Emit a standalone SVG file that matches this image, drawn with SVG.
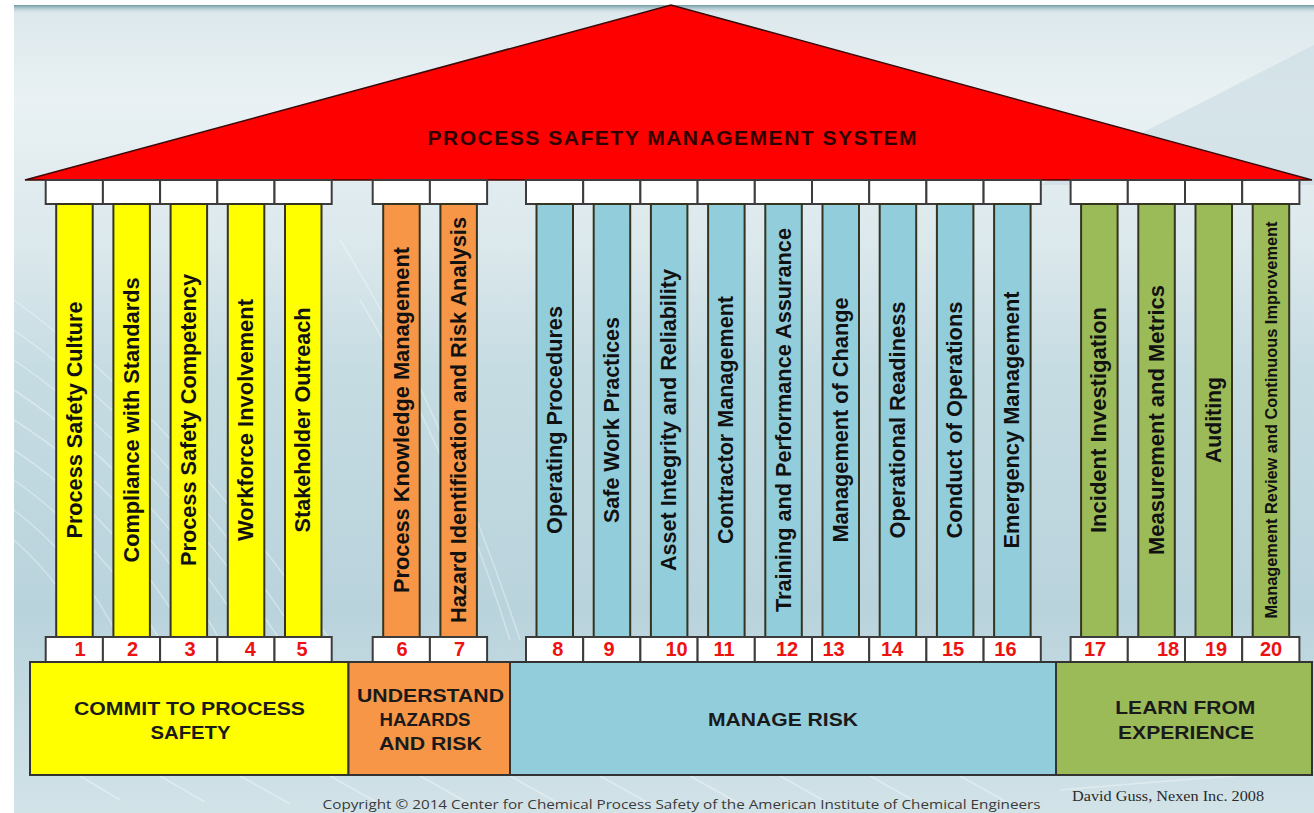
<svg xmlns="http://www.w3.org/2000/svg" width="1314" height="813" viewBox="0 0 1314 813">
<defs>
<linearGradient id="bg" x1="0" y1="0" x2="0" y2="1">
<stop offset="0" stop-color="#dce8ec"/>
<stop offset="0.12" stop-color="#e9f1f4"/>
<stop offset="0.3" stop-color="#dbe8ec"/>
<stop offset="0.45" stop-color="#c6dce3"/>
<stop offset="0.75" stop-color="#b9d3dc"/>
<stop offset="1" stop-color="#d2e3e8"/>
</linearGradient>
<linearGradient id="topband" x1="0" y1="0" x2="0" y2="1">
<stop offset="0" stop-color="#6f99a6"/>
<stop offset="1" stop-color="#dce8ec" stop-opacity="0"/>
</linearGradient>
<style>
.cap{fill:#ffffff;stroke:#3c3c3c;stroke-width:2}
.pil{stroke:#34341f;stroke-width:2}
.y{fill:#ffff00}
.o{fill:#f79646}
.b{fill:#92cddc}
.g{fill:#9bbb59}
.base{stroke:#333333;stroke-width:2}
.pt{font-family:"Liberation Sans",Arial,sans-serif;font-weight:bold;font-size:21.5px;fill:#111111;text-anchor:middle}
.num{font-family:"Liberation Sans",Arial,sans-serif;font-weight:bold;font-size:20px;fill:#ee1111;text-anchor:middle}
.bt{font-family:"Liberation Sans",Arial,sans-serif;font-weight:bold;font-size:18px;fill:#1a1a1a;text-anchor:middle}
.sw{fill:none;stroke:#ffffff;stroke-opacity:0.35;stroke-width:1.5}
</style>
</defs>
<rect x="0" y="0" width="1314" height="813" fill="#ffffff"/>
<rect x="14" y="5" width="1300" height="808" fill="url(#bg)"/>
<rect x="14" y="5" width="1300" height="9" fill="url(#topband)"/>
<polygon points="1314,45 1040,185 1314,185" fill="#c9dce3" opacity="0.6"/>
<g id="background-swooshes">
<path class="sw" d="M14 300 Q180 420 330 640"/>
<path class="sw" d="M14 330 Q170 440 300 640"/>
<path class="sw" d="M14 360 Q160 460 280 640"/>
<path class="sw" d="M14 390 Q150 480 250 640"/>
<path class="sw" d="M14 420 Q140 500 220 640"/>
<path class="sw" d="M14 450 Q120 520 190 640"/>
<path class="sw" d="M14 480 Q100 540 160 640"/>
<path class="sw" d="M14 510 Q80 560 120 640"/>
<path class="sw" d="M14 540 Q60 580 90 640"/>
<path class="sw" d="M340 240 Q440 400 520 640"/>
<path class="sw" d="M360 300 Q450 450 510 640"/>
<path class="sw" d="M80 776 L120 800"/>
<path class="sw" d="M160 776 L205 802"/>
<path class="sw" d="M240 776 L290 804"/>
<path class="sw" d="M330 776 L380 804"/>
<path class="sw" d="M420 776 L470 804"/>
<path class="sw" d="M510 776 L560 804"/>
<path class="sw" d="M600 776 L650 804"/>
<path class="sw" d="M690 776 L740 804"/>
<path class="sw" d="M780 776 L830 804"/>
<path class="sw" d="M870 776 L920 804"/>
<path class="sw" d="M960 776 L1010 804"/>
<path class="sw" d="M1060 790 Q1200 778 1314 770"/>
</g>

<g id="roof">
<polygon points="25,180 671,5 1312,180" fill="#ff0000" stroke="#3a0a0a" stroke-width="1.5" stroke-linejoin="miter"/>
<text x="672" y="145" font-family="Liberation Sans, Arial, sans-serif" font-weight="bold" font-size="21" fill="#300000" text-anchor="middle" textLength="489" lengthAdjust="spacing">PROCESS SAFETY MANAGEMENT SYSTEM</text>
</g>

<g id="element-1">
<rect class="cap" x="45.7" y="180" width="57.2" height="24"/>
<rect class="pil y" x="56.2" y="204" width="36.5" height="433"/>
<rect class="cap" x="45.7" y="637" width="57.2" height="25"/>
<text class="pt" transform="translate(81.5,420) rotate(-90)" textLength="237" lengthAdjust="spacingAndGlyphs">Process Safety Culture</text>
<text class="num" x="80" y="656">1</text>
</g>
<g id="element-2">
<rect class="cap" x="102.9" y="180" width="57.2" height="24"/>
<rect class="pil y" x="113.4" y="204" width="36.5" height="433"/>
<rect class="cap" x="102.9" y="637" width="57.2" height="25"/>
<text class="pt" transform="translate(138.7,420) rotate(-90)" textLength="285" lengthAdjust="spacingAndGlyphs">Compliance with Standards</text>
<text class="num" x="132.6" y="656">2</text>
</g>
<g id="element-3">
<rect class="cap" x="160.1" y="180" width="57.2" height="24"/>
<rect class="pil y" x="170.6" y="204" width="36.5" height="433"/>
<rect class="cap" x="160.1" y="637" width="57.2" height="25"/>
<text class="pt" transform="translate(195.9,420) rotate(-90)" textLength="292" lengthAdjust="spacingAndGlyphs">Process Safety Competency</text>
<text class="num" x="190" y="656">3</text>
</g>
<g id="element-4">
<rect class="cap" x="217.3" y="180" width="57.2" height="24"/>
<rect class="pil y" x="227.8" y="204" width="36.5" height="433"/>
<rect class="cap" x="217.3" y="637" width="57.2" height="25"/>
<text class="pt" transform="translate(253.1,420) rotate(-90)" textLength="242" lengthAdjust="spacingAndGlyphs">Workforce Involvement</text>
<text class="num" x="250.4" y="656">4</text>
</g>
<g id="element-5">
<rect class="cap" x="274.5" y="180" width="57.2" height="24"/>
<rect class="pil y" x="285" y="204" width="36.5" height="433"/>
<rect class="cap" x="274.5" y="637" width="57.2" height="25"/>
<text class="pt" transform="translate(310.3,420) rotate(-90)" textLength="225" lengthAdjust="spacingAndGlyphs">Stakeholder Outreach</text>
<text class="num" x="302" y="656">5</text>
</g>

<g id="element-6">
<rect class="cap" x="372.7" y="180" width="57.2" height="24"/>
<rect class="pil o" x="383.2" y="204" width="36.5" height="433"/>
<rect class="cap" x="372.7" y="637" width="57.2" height="25"/>
<text class="pt" transform="translate(408.5,420) rotate(-90)" textLength="346" lengthAdjust="spacingAndGlyphs">Process Knowledge Management</text>
<text class="num" x="402" y="656">6</text>
</g>
<g id="element-7">
<rect class="cap" x="429.9" y="180" width="57.2" height="24"/>
<rect class="pil o" x="440.4" y="204" width="36.5" height="433"/>
<rect class="cap" x="429.9" y="637" width="57.2" height="25"/>
<text class="pt" transform="translate(465.7,420) rotate(-90)" textLength="406" lengthAdjust="spacingAndGlyphs">Hazard Identification and Risk Analysis</text>
<text class="num" x="459.6" y="656">7</text>
</g>

<g id="element-8">
<rect class="cap" x="526" y="180" width="57.2" height="24"/>
<rect class="pil b" x="536.5" y="204" width="36.5" height="433"/>
<rect class="cap" x="526" y="637" width="57.2" height="25"/>
<text class="pt" transform="translate(561.8,420) rotate(-90)" textLength="228" lengthAdjust="spacingAndGlyphs">Operating Procedures</text>
<text class="num" x="557.7" y="656">8</text>
</g>
<g id="element-9">
<rect class="cap" x="583.2" y="180" width="57.2" height="24"/>
<rect class="pil b" x="593.7" y="204" width="36.5" height="433"/>
<rect class="cap" x="583.2" y="637" width="57.2" height="25"/>
<text class="pt" transform="translate(619,420) rotate(-90)" textLength="206" lengthAdjust="spacingAndGlyphs">Safe Work Practices</text>
<text class="num" x="609" y="656">9</text>
</g>
<g id="element-10">
<rect class="cap" x="640.4" y="180" width="57.2" height="24"/>
<rect class="pil b" x="650.9" y="204" width="36.5" height="433"/>
<rect class="cap" x="640.4" y="637" width="57.2" height="25"/>
<text class="pt" transform="translate(676.2,420) rotate(-90)" textLength="302" lengthAdjust="spacingAndGlyphs">Asset Integrity and Reliability</text>
<text class="num" x="676.5" y="656">10</text>
</g>
<g id="element-11">
<rect class="cap" x="697.6" y="180" width="57.2" height="24"/>
<rect class="pil b" x="708.1" y="204" width="36.5" height="433"/>
<rect class="cap" x="697.6" y="637" width="57.2" height="25"/>
<text class="pt" transform="translate(733.4,420) rotate(-90)" textLength="248" lengthAdjust="spacingAndGlyphs">Contractor Management</text>
<text class="num" x="724" y="656">11</text>
</g>
<g id="element-12">
<rect class="cap" x="754.8" y="180" width="57.2" height="24"/>
<rect class="pil b" x="765.3" y="204" width="36.5" height="433"/>
<rect class="cap" x="754.8" y="637" width="57.2" height="25"/>
<text class="pt" transform="translate(790.6,420) rotate(-90)" textLength="384" lengthAdjust="spacingAndGlyphs">Training and Performance Assurance</text>
<text class="num" x="787" y="656">12</text>
</g>
<g id="element-13">
<rect class="cap" x="812" y="180" width="57.2" height="24"/>
<rect class="pil b" x="822.5" y="204" width="36.5" height="433"/>
<rect class="cap" x="812" y="637" width="57.2" height="25"/>
<text class="pt" transform="translate(847.8,420) rotate(-90)" textLength="245" lengthAdjust="spacingAndGlyphs">Management of Change</text>
<text class="num" x="833.5" y="656">13</text>
</g>
<g id="element-14">
<rect class="cap" x="869.2" y="180" width="57.2" height="24"/>
<rect class="pil b" x="879.7" y="204" width="36.5" height="433"/>
<rect class="cap" x="869.2" y="637" width="57.2" height="25"/>
<text class="pt" transform="translate(905,420) rotate(-90)" textLength="237" lengthAdjust="spacingAndGlyphs">Operational Readiness</text>
<text class="num" x="892" y="656">14</text>
</g>
<g id="element-15">
<rect class="cap" x="926.4" y="180" width="57.2" height="24"/>
<rect class="pil b" x="936.9" y="204" width="36.5" height="433"/>
<rect class="cap" x="926.4" y="637" width="57.2" height="25"/>
<text class="pt" transform="translate(962.2,420) rotate(-90)" textLength="237" lengthAdjust="spacingAndGlyphs">Conduct of Operations</text>
<text class="num" x="953" y="656">15</text>
</g>
<g id="element-16">
<rect class="cap" x="983.6" y="180" width="57.2" height="24"/>
<rect class="pil b" x="994.1" y="204" width="36.5" height="433"/>
<rect class="cap" x="983.6" y="637" width="57.2" height="25"/>
<text class="pt" transform="translate(1019.4,420) rotate(-90)" textLength="257" lengthAdjust="spacingAndGlyphs">Emergency Management</text>
<text class="num" x="1005.4" y="656">16</text>
</g>

<g id="element-17">
<rect class="cap" x="1070.6" y="180" width="57.2" height="24"/>
<rect class="pil g" x="1081.1" y="204" width="36.5" height="433"/>
<rect class="cap" x="1070.6" y="637" width="57.2" height="25"/>
<text class="pt" transform="translate(1106.4,420) rotate(-90)" textLength="226" lengthAdjust="spacingAndGlyphs">Incident Investigation</text>
<text class="num" x="1095" y="656">17</text>
</g>
<g id="element-18">
<rect class="cap" x="1127.8" y="180" width="57.2" height="24"/>
<rect class="pil g" x="1138.3" y="204" width="36.5" height="433"/>
<rect class="cap" x="1127.8" y="637" width="57.2" height="25"/>
<text class="pt" transform="translate(1163.6,420) rotate(-90)" textLength="270" lengthAdjust="spacingAndGlyphs">Measurement and Metrics</text>
<text class="num" x="1168" y="656">18</text>
</g>
<g id="element-19">
<rect class="cap" x="1185" y="180" width="57.2" height="24"/>
<rect class="pil g" x="1195.5" y="204" width="36.5" height="433"/>
<rect class="cap" x="1185" y="637" width="57.2" height="25"/>
<text class="pt" transform="translate(1220.8,420) rotate(-90)" textLength="86" lengthAdjust="spacingAndGlyphs">Auditing</text>
<text class="num" x="1216" y="656">19</text>
</g>
<g id="element-20">
<rect class="cap" x="1242.2" y="180" width="57.2" height="24"/>
<rect class="pil g" x="1252.7" y="204" width="36.5" height="433"/>
<rect class="cap" x="1242.2" y="637" width="57.2" height="25"/>
<text class="pt" font-size="16" style="font-size:16px" transform="translate(1276.5,420) rotate(-90)" textLength="397" lengthAdjust="spacingAndGlyphs">Management Review and Continuous Improvement</text>
<text class="num" x="1271" y="656">20</text>
</g>

<g id="base-commit">
<rect class="base y" x="30" y="662" width="318.5" height="113"/>
<text class="bt" x="189.5" y="714.5" textLength="231" lengthAdjust="spacingAndGlyphs">COMMIT TO PROCESS</text>
<text class="bt" x="190.5" y="739" textLength="80" lengthAdjust="spacingAndGlyphs">SAFETY</text>
</g>
<g id="base-understand">
<rect class="base o" x="348.5" y="662" width="161.5" height="113"/>
<text class="bt" x="430.5" y="701.5" textLength="147" lengthAdjust="spacingAndGlyphs">UNDERSTAND</text>
<text class="bt" x="425" y="726" textLength="91" lengthAdjust="spacingAndGlyphs">HAZARDS</text>
<text class="bt" x="430.4" y="750" textLength="103" lengthAdjust="spacingAndGlyphs">AND RISK</text>
</g>
<g id="base-manage">
<rect class="base b" x="510" y="662" width="546" height="113"/>
<text class="bt" x="783" y="726" textLength="150" lengthAdjust="spacingAndGlyphs">MANAGE RISK</text>
</g>
<g id="base-learn">
<rect class="base g" x="1056" y="662" width="256" height="113"/>
<text class="bt" x="1185.3" y="714.3" textLength="140" lengthAdjust="spacingAndGlyphs">LEARN FROM</text>
<text class="bt" x="1186" y="739" textLength="136" lengthAdjust="spacingAndGlyphs">EXPERIENCE</text>
</g>

<g id="connectors"/>

<text x="322.6" y="808.5" font-family="Open Sans, Liberation Sans, sans-serif" font-size="12.5" fill="#3a3a3a" textLength="718" lengthAdjust="spacingAndGlyphs">Copyright © 2014 Center for Chemical Process Safety of the American Institute of Chemical Engineers</text>
<text x="1072" y="801" font-family="Liberation Serif, Times New Roman, serif" font-size="15" fill="#2a2a2a" textLength="192" lengthAdjust="spacingAndGlyphs">David Guss, Nexen Inc. 2008</text>
</svg>
